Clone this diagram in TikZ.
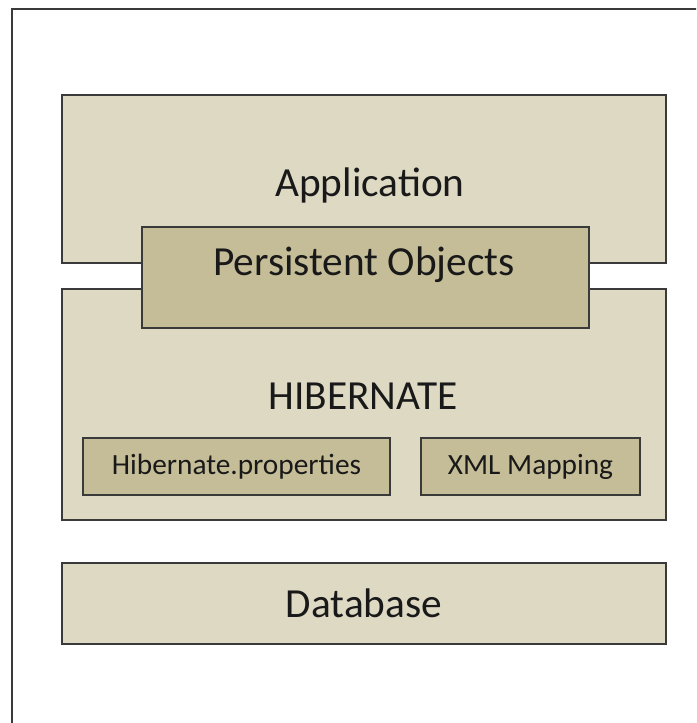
\documentclass[tikz,border=0pt]{standalone}
\usepackage{fontspec}
\setmainfont{Carlito}
\definecolor{lighttan}{HTML}{DDD9C3}
\definecolor{darktan}{HTML}{C4BD97}
\definecolor{edgegray}{HTML}{3A3A3A}
\tikzstyle{layer}=[draw=edgegray, line width=1.6pt, fill=lighttan, inner sep=0pt]
\tikzstyle{part}=[draw=edgegray, line width=1.6pt, fill=darktan, inner sep=0pt]
\tikzstyle{bigtext}=[font=\fontsize{31}{37}\selectfont, text=black!90]
\tikzstyle{smalltext}=[font=\fontsize{22}{26}\selectfont, text=black!90]

\begin{document}
\begin{tikzpicture}[x=0.75pt, y=-0.75pt]
  \useasboundingbox (0,0) rectangle (696,723);
  \clip (0,0) rectangle (696,723);
  % outer frame, cut at the right and bottom
  \draw[edgegray, line width=1.6pt] (12,9) rectangle (730,760);
  % layers
  \node[layer, minimum width=453pt, minimum height=126pt] (app) at (364,179) {};
  \node[bigtext] (apptext) at (370,185) {Application};
  \node[layer, minimum width=453pt, minimum height=173.25pt] (hib) at (364,404.5) {};
  \node[bigtext] (hibtext) at (363,396) {HIBERNATE};
  \node[part, minimum width=335.25pt, minimum height=75.75pt] (po) at (365.5,277.5) {};
  \node[bigtext] (potext) at (364,265) {Persistent Objects};
  \node[part, smalltext, minimum width=230.25pt, minimum height=42.75pt] (props) at (236.5,466.5) {Hibernate.properties};
  \node[part, smalltext, minimum width=164.25pt, minimum height=42.75pt] (xml) at (530.5,466.5) {XML Mapping};
  \node[layer, bigtext, minimum width=453pt, minimum height=60.75pt] (db) at (364,603.5) {Database};
\end{tikzpicture}
\end{document}
